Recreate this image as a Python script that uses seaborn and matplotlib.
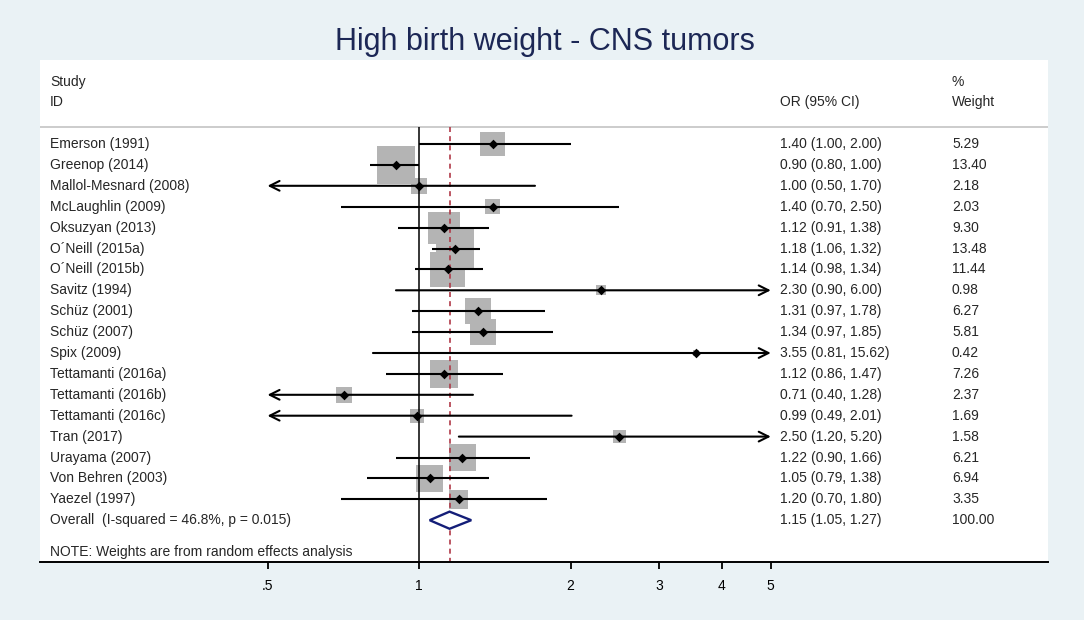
import numpy as np
import pandas as pd
import matplotlib
matplotlib.use("Agg")
import matplotlib.pyplot as plt
import seaborn as sns

# ---------------- data ----------------
studies = ["Emerson (1991)", "Greenop (2014)", "Mallol-Mesnard (2008)", "McLaughlin (2009)",
           "Oksuzyan (2013)", "O\u00b4Neill (2015a)", "O\u00b4Neill (2015b)", "Savitz (1994)",
           "Sch\u00fcz (2001)", "Sch\u00fcz (2007)", "Spix (2009)", "Tettamanti (2016a)",
           "Tettamanti (2016b)", "Tettamanti (2016c)", "Tran (2017)", "Urayama (2007)",
           "Von Behren (2003)", "Yaezel (1997)"]
odds_ratio = [1.40, 0.90, 1.00, 1.40, 1.12, 1.18, 1.14, 2.30, 1.31, 1.34, 3.55, 1.12, 0.71, 0.99, 2.50, 1.22, 1.05, 1.20]
ci_low = [1.00, 0.80, 0.50, 0.70, 0.91, 1.06, 0.98, 0.90, 0.97, 0.97, 0.81, 0.86, 0.40, 0.49, 1.20, 0.90, 0.79, 0.70]
ci_high = [2.00, 1.00, 1.70, 2.50, 1.38, 1.32, 1.34, 6.00, 1.78, 1.85, 15.62, 1.47, 1.28, 2.01, 5.20, 1.66, 1.38, 1.80]
weights = [5.29, 13.40, 2.18, 2.03, 9.30, 13.48, 11.44, 0.98, 6.27, 5.81, 0.42, 7.26, 2.37, 1.69, 1.58, 6.21, 6.94, 3.35]

overall_label = "Overall  (I-squared = 46.8%, p = 0.015)"
overall_or = 1.15
overall_low = 1.05
overall_high = 1.27
overall_weight = 100.00

title = "High birth weight - CNS tumors"
note = "NOTE: Weights are from random effects analysis"
tick_values = [0.5, 1, 2, 3, 4, 5]
tick_labels = [".5", "1", "2", "3", "4", "5"]
clip_low, clip_high = 0.5, 5.0

df = pd.DataFrame({"study": studies, "or": odds_ratio, "lo": ci_low, "hi": ci_high, "w": weights})
df["row"] = np.arange(len(df))
overall_row = len(df)

# ---------------- style ----------------
sns.set_theme(style="white")
plt.rcParams["font.family"] = ["Liberation Sans", "DejaVu Sans"]
plt.rcParams["axes.linewidth"] = 1.4

W, H = 1084, 620
fig = plt.figure(figsize=(W / 100, H / 100), dpi=100, facecolor="#eaf2f5")
ax = fig.add_axes([40 / W, (H - 562) / H, (1048 - 40) / W, (562 - 60) / H])
ax.set_facecolor("white")
ax.set_xscale("log")
x_left = 2 ** ((40 - 419) / 151.5)
x_right = 2 ** ((1048 - 419) / 151.5)
ax.set_xlim(x_left, x_right)
row_h = 20.9
ax.set_ylim((562 - 144) / row_h, (60 - 144) / row_h)

sep_y = (127.3 - 144) / row_h
bottom_y = (562 - 144) / row_h

# separator line
ax.axhline(sep_y, color="#c8c8c8", lw=1.3, zorder=1)
# null line and overall line
ax.vlines(1, sep_y, bottom_y, color="black", lw=1.1, zorder=2)
ax.vlines(overall_or, sep_y, bottom_y, color="#b03a48", lw=1.2, linestyles=(0, (3, 2.5)), zorder=2)

# weight boxes (side proportional to sqrt weight)
side_pt = 10.5 * 0.72 * np.sqrt(df["w"].values)
ax.scatter(df["or"], df["row"], marker="s", s=side_pt ** 2, color="#b4b4b4", linewidths=0, zorder=1.5)

# CI lines with arrows for clipped intervals
arrow_kw = dict(arrowstyle="->,head_length=0.7,head_width=0.35", lw=1.5,
                color="black", shrinkA=0, shrinkB=0, mutation_scale=10)
for _, r in df.iterrows():
    lo, hi, y = r["lo"], r["hi"], r["row"]
    lo_c = max(lo, clip_low)
    hi_c = min(hi, clip_high)
    if lo <= clip_low:
        ax.annotate("", xy=(lo_c, y), xytext=(hi_c, y), xycoords="data", arrowprops=arrow_kw, zorder=3)
    elif hi >= clip_high:
        ax.annotate("", xy=(hi_c, y), xytext=(lo_c, y), xycoords="data", arrowprops=arrow_kw, zorder=3)
    else:
        ax.hlines(y, lo_c, hi_c, color="black", lw=1.5, zorder=3)

# point estimates
sns.scatterplot(data=df, x="or", y="row", marker="D", color="black", s=24, linewidth=0, ax=ax, zorder=4, legend=False)

# overall diamond
dh = 0.41
ax.fill([overall_low, overall_or, overall_high, overall_or],
        [overall_row, overall_row - dh, overall_row, overall_row + dh],
        facecolor="white", edgecolor="#141e78", lw=1.7, zorder=4)

# text columns
tr = ax.get_yaxis_transform()  # x in axes fraction, y in data
x_study = (50 - 40) / 1008
x_or = (780 - 40) / 1008
x_w = (952 - 40) / 1008
fs = 10
ax.text(x_study, (82 - 144) / row_h, "Study", transform=tr, fontsize=fs, va="center", ha="left")
ax.text(x_study, (102 - 144) / row_h, "ID", transform=tr, fontsize=fs, va="center", ha="left")
ax.text(x_or, (102 - 144) / row_h, "OR (95% CI)", transform=tr, fontsize=fs, va="center", ha="left")
ax.text(x_w, (82 - 144) / row_h, "%", transform=tr, fontsize=fs, va="center", ha="left")
ax.text(x_w, (102 - 144) / row_h, "Weight", transform=tr, fontsize=fs, va="center", ha="left")

for _, r in df.iterrows():
    ax.text(x_study, r["row"], r["study"], transform=tr, fontsize=fs, va="center", ha="left")
    ax.text(x_or, r["row"], f"{r['or']:.2f} ({r['lo']:.2f}, {r['hi']:.2f})", transform=tr,
            fontsize=fs, va="center", ha="left")
    ax.text(x_w, r["row"], f"{r['w']:.2f}", transform=tr, fontsize=fs, va="center", ha="left")

ax.text(x_study, overall_row, overall_label, transform=tr, fontsize=fs, va="center", ha="left")
ax.text(x_or, overall_row, f"{overall_or:.2f} ({overall_low:.2f}, {overall_high:.2f})", transform=tr,
        fontsize=fs, va="center", ha="left")
ax.text(x_w, overall_row, f"{overall_weight:.2f}", transform=tr, fontsize=fs, va="center", ha="left")
ax.text(x_study, (552 - 144) / row_h, note, transform=tr, fontsize=fs, va="center", ha="left")

# axes
for s in ["top", "left", "right"]:
    ax.spines[s].set_visible(False)
ax.spines["bottom"].set_color("black")
ax.set_xticks(tick_values)
ax.set_xticklabels(tick_labels, fontsize=fs)
ax.xaxis.set_minor_locator(matplotlib.ticker.NullLocator())
ax.tick_params(axis="x", bottom=True, length=5, width=1.3, pad=7.5, colors="black")
ax.set_yticks([])
ax.set_xlabel("")
ax.set_ylabel("")

fig.text(545 / W, 1 - 42 / H, title, fontsize=22, color="#1c2755", ha="center", va="center")

fig.savefig("out.png", dpi=100, facecolor=fig.get_facecolor())
